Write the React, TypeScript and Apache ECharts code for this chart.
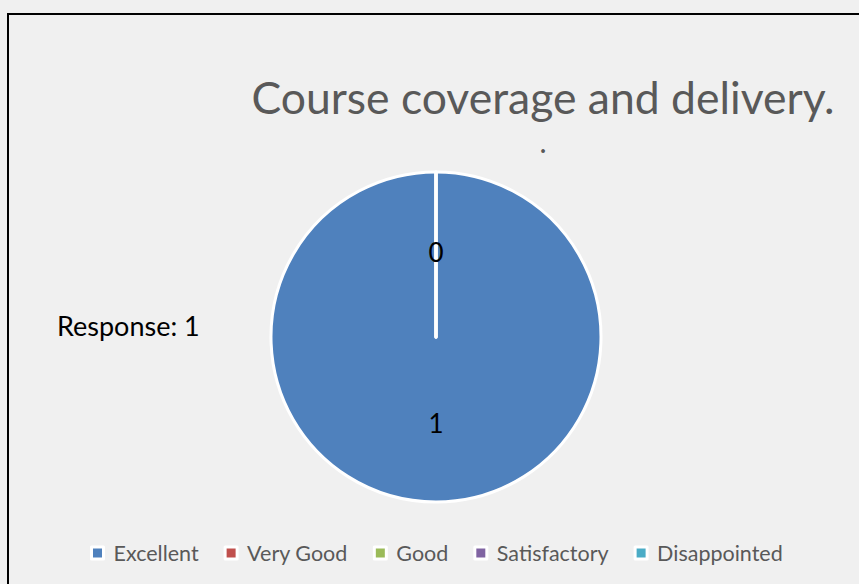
import React, { useEffect, useRef } from "react";
import * as echarts from "echarts";

const categories = ["Excellent", "Very Good", "Good", "Satisfactory", "Disappointed"];
const values = [1, 0, 0, 0, 0];
const colors = ["#4f81bd", "#c0504d", "#9bbb59", "#8064a2", "#4bacc6"];
const titleText = "Course coverage and delivery.";
const subtitleText = ".";
const responseText = "Response: 1";

export default function App() {
  const ref = useRef<HTMLDivElement>(null);
  useEffect(() => {
    if (!ref.current) return;
    const chart = echarts.init(ref.current, null, { renderer: "svg" });
    chart.setOption({
      animation: false,
      backgroundColor: "#f0f0f0",
      color: colors,
      title: {
        text: titleText,
        subtext: subtitleText,
        left: 538,
        top: 69,
        textAlign: "center",
        itemGap: 7,
        textStyle: { fontFamily: "Lato", fontSize: 44.5, fontWeight: "normal", color: "#595959" },
        subtextStyle: { fontFamily: "Lato", fontSize: 30, color: "#595959" },
      },
      legend: {
        bottom: 15,
        left: 85,
        icon: "rect",
        itemWidth: 12,
        itemHeight: 12,
        itemGap: 25,
        itemStyle: { borderColor: "#ffffff", borderWidth: 3 },
        textStyle: { fontFamily: "Lato", fontSize: 21.5, color: "#595959", padding: [0, 0, 0, 5] },
        data: categories,
      },
      graphic: [
        {
          type: "rect",
          shape: { x: 8, y: 14, width: 900, height: 620 },
          style: { fill: "none", stroke: "#000", lineWidth: 2 },
          silent: true,
        },
        {
          type: "text",
          x: 57,
          y: 325,
          style: { text: responseText, fontFamily: "Lato", fontSize: 27, fill: "#000", verticalAlign: "middle" },
        },
      ],
      series: [
        {
          type: "pie",
          center: [436, 337],
          radius: [0, 165],
          startAngle: 90,
          clockwise: true,
          avoidLabelOverlap: false,
          stillShowZeroSum: true,
          minAngle: 0,
          itemStyle: { borderColor: "#ffffff", borderWidth: 3 },
          label: {
            show: true,
            position: "inside",
            formatter: "{c}",
            fontFamily: "Lato",
            fontSize: 26,
            color: "#000",
          },
          labelLine: { show: false },
          emphasis: { disabled: true },
          data: categories.map((c, i) => ({ name: c, value: values[i] })),
        },
      ],
    });
    return () => chart.dispose();
  }, []);
  return (
    <div
      ref={ref}
      style={{ position: "fixed", left: 0, top: 0, width: 859, height: 584 }}
    />
  );
}
